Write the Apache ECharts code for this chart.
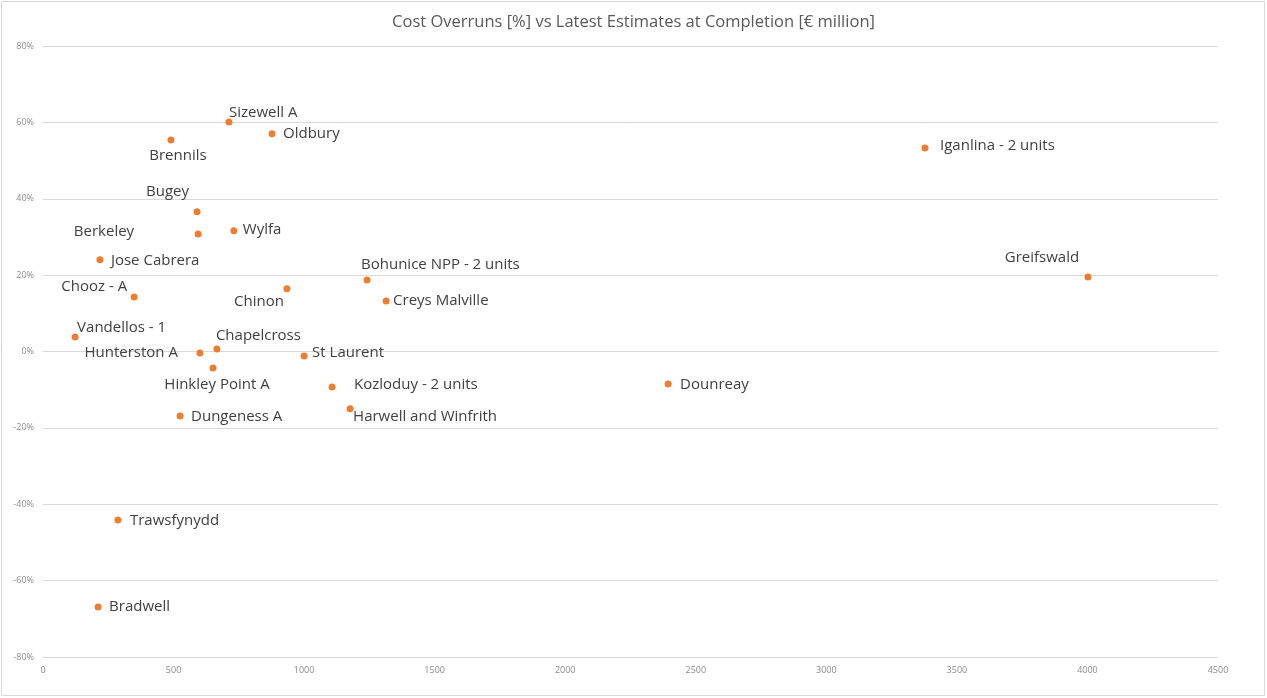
<!DOCTYPE html>
<html>
<head>
<meta charset="utf-8">
<script src="https://cdn.jsdelivr.net/npm/echarts@6/dist/echarts.min.js"></script>
<style>html,body{margin:0;padding:0;background:#fff}#c{width:1267px;height:698px}</style>
</head>
<body>
<div id="c"></div>
<script>
const names = ["Sizewell A","Oldbury","Brennils","Bugey","Berkeley","Wylfa","Jose Cabrera","Chooz - A","Chinon","Bohunice NPP - 2 units","Creys Malville","Greifswald","Iganlina - 2 units","Vandellos - 1","Chapelcross","Hunterston A","St Laurent","Hinkley Point A","Kozloduy - 2 units","Harwell and Winfrith","Dungeness A","Dounreay","Trawsfynydd","Bradwell"];
const costs = [712,877,490,590,594,731,218,349,934,1241,1314,4002,3378,123,666,601,1000,651,1107,1176,525,2394,287,211];
const overruns = [60.1,57,55.4,36.6,30.8,31.6,24,14.3,16.4,18.7,13.2,19.5,53.3,3.8,0.65,-0.4,-1.2,-4.3,-9.3,-15,-16.9,-8.5,-44.1,-66.9];
const xTicks = [0,500,1000,1500,2000,2500,3000,3500,4000,4500];
const yTicks = [-80,-60,-40,-20,0,20,40,60,80];

// label placement (dx, dy from dot centre, alignment)
const labelPlace = {
  "Sizewell A":[0,-9,"left"], "Oldbury":[11,0,"left"], "Brennils":[7,16,"center"],
  "Bugey":[-8,-20,"right"], "Berkeley":[-64,-2,"right"], "Wylfa":[9,-1,"left"],
  "Jose Cabrera":[11,1,"left"], "Chooz - A":[-7,-10,"right"], "Chinon":[-3,13,"right"],
  "Bohunice NPP - 2 units":[-6,-15,"left"], "Creys Malville":[7,0,"left"],
  "Greifswald":[-46,-19,"center"], "Iganlina - 2 units":[15,-2,"left"],
  "Vandellos - 1":[2,-9,"left"], "Chapelcross":[-1,-13,"left"], "Hunterston A":[-22,0,"right"],
  "St Laurent":[8,-3,"left"], "Hinkley Point A":[4,17,"center"], "Kozloduy - 2 units":[22,-2,"left"],
  "Harwell and Winfrith":[3,8,"left"], "Dungeness A":[11,1,"left"], "Dounreay":[12,1,"left"],
  "Trawsfynydd":[12,1,"left"], "Bradwell":[11,0,"left"]
};
const S = 7;
const data = names.map((n,i)=>{
  const p = labelPlace[n];
  return {
    name:n, value:[costs[i], overruns[i]],
    label:{show:true, formatter:n, position:[S/2+p[0], S/2+p[1]], align:p[2], verticalAlign:'middle'}
  };
});

const chart = echarts.init(document.getElementById('c'));
chart.setOption({
  backgroundColor:'#fff',
  animation:false,
  title:{text:'Cost Overruns [%] vs Latest Estimates at Completion [€ million]', left:'center', top:9,
    textStyle:{fontFamily:'Open Sans', fontSize:16.5, fontWeight:'normal', color:'#595959'}},
  graphic:[{type:'rect', shape:{x:1.5,y:1.5,width:1263,height:694}, style:{fill:'none', stroke:'#d9d9d9', lineWidth:1}}],
  grid:{left:43, right:49, top:46, bottom:41},
  xAxis:{type:'value', min:xTicks[0], max:xTicks[xTicks.length-1], interval:500,
    axisLine:{show:true, onZero:true, lineStyle:{color:'#d9d9d9'}}, axisTick:{show:false},
    splitLine:{show:false},
    axisLabel:{color:'#8c8c8c', fontSize:9, fontFamily:'Open Sans', margin:9, formatter:v=>String(v)}},
  yAxis:{type:'value', min:yTicks[0], max:yTicks[yTicks.length-1], interval:20,
    axisLine:{show:false}, axisTick:{show:false},
    splitLine:{lineStyle:{color:'#d9d9d9'}},
    axisLabel:{color:'#8c8c8c', fontSize:9, fontFamily:'Open Sans', margin:9, formatter:'{value}%'}},
  series:[{type:'scatter', symbolSize:S, itemStyle:{color:'#ED7D31', opacity:1}, data:data,
    label:{fontFamily:'Open Sans', fontSize:15, color:'#404040'}}]
});
</script>
</body>
</html>
